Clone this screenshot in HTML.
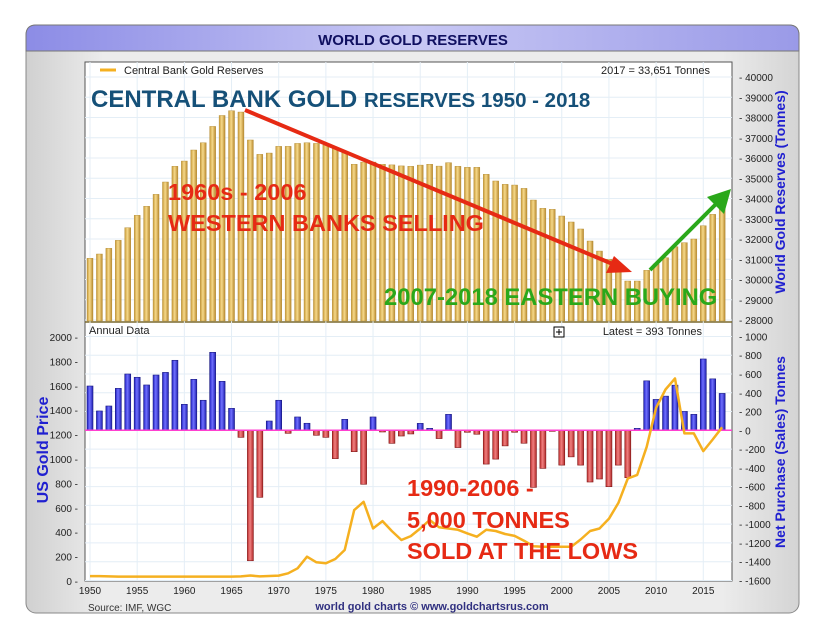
<!DOCTYPE html>
<html><head><meta charset="utf-8"><style>
body{margin:0;background:#fff;width:819px;height:637px;overflow:hidden;font-family:"Liberation Sans",sans-serif}
svg{display:block}
</style></head><body>
<svg id="c" width="819" height="637" font-family="Liberation Sans, sans-serif">
<defs>
<linearGradient id="panel" x1="0" y1="0" x2="1" y2="0"><stop offset="0" stop-color="#d0d0d0"/><stop offset="0.1" stop-color="#ececec"/><stop offset="0.9" stop-color="#ececec"/><stop offset="1" stop-color="#d4d4d4"/></linearGradient>
<linearGradient id="tb" x1="0" y1="0" x2="1" y2="0"><stop offset="0" stop-color="#8c8ce6"/><stop offset="0.5" stop-color="#c8c8f4"/><stop offset="1" stop-color="#9a9ae8"/></linearGradient>
<linearGradient id="gold" x1="0" y1="0" x2="1" y2="0"><stop offset="0" stop-color="#c79a3a"/><stop offset="0.45" stop-color="#f6d98a"/><stop offset="1" stop-color="#b8892e"/></linearGradient>
<linearGradient id="blu" x1="0" y1="0" x2="1" y2="0"><stop offset="0" stop-color="#2020c0"/><stop offset="0.45" stop-color="#7070ff"/><stop offset="1" stop-color="#2020b0"/></linearGradient>
<linearGradient id="red" x1="0" y1="0" x2="1" y2="0"><stop offset="0" stop-color="#c03030"/><stop offset="0.45" stop-color="#f08080"/><stop offset="1" stop-color="#b02828"/></linearGradient>
</defs>
<rect x="26" y="25" width="773" height="588" rx="10" fill="url(#panel)" stroke="#888"/>
<path d="M36 25 H789 Q799 25 799 35 V51 H26 V35 Q26 25 36 25Z" fill="url(#tb)" stroke="#777"/>
<text x="413" y="45" text-anchor="middle" font-weight="bold" font-size="15" fill="#101060">WORLD GOLD RESERVES</text>
<rect x="85" y="62" width="647" height="519" fill="#fff" stroke="#555"/>
<line x1="85" y1="322" x2="732" y2="322" stroke="#7a6a30" stroke-width="1.5"/>
<g id="grid"></g><g id="top"></g><g id="bot"></g><g id="axes"></g>
<line x1="100" y1="70" x2="116" y2="70" stroke="#f5b020" stroke-width="3"/>
<text x="124" y="74" font-size="11" fill="#222">Central Bank Gold Reserves</text>
<text x="710" y="74" text-anchor="end" font-size="11" fill="#222">2017 = 33,651 Tonnes</text>
<text x="89" y="334" font-size="11" fill="#222">Annual Data</text>
<text x="702" y="335" text-anchor="end" font-size="11" fill="#222">Latest = 393 Tonnes</text>
<g><rect x="554" y="327" width="10" height="10" fill="#fff" stroke="#000"/><line x1="559" y1="329" x2="559" y2="335" stroke="#000"/><line x1="556" y1="332" x2="562" y2="332" stroke="#000"/></g>
<text x="91" y="107" font-weight="bold" fill="#155078"><tspan font-size="24">CENTRAL BANK GOLD </tspan><tspan font-size="20.5">RESERVES 1950 - 2018</tspan></text>
<g font-weight="bold" font-size="23.5" fill="#e62a14"><text x="168" y="200">1960s - 2006</text><text x="168" y="231">WESTERN BANKS SELLING</text></g>
<text x="384" y="305" font-weight="bold" font-size="23.8" fill="#2aa81a">2007-2018 EASTERN BUYING</text>
<g font-weight="bold" font-size="23.5" fill="#e62a14"><text x="407" y="496">1990-2006 -</text><text x="407" y="528">5,000 TONNES</text><text x="407" y="559">SOLD AT THE LOWS</text></g>
<g><line x1="245" y1="110" x2="615" y2="265" stroke="#e62a14" stroke-width="4"/><polygon points="632,272 606,273 614,256" fill="#e62a14"/></g>
<g><line x1="650" y1="270" x2="718" y2="202" stroke="#2aa81a" stroke-width="4"/><polygon points="731,189 724,214 707,197" fill="#2aa81a"/></g>
<text transform="translate(785,192) rotate(-90)" text-anchor="middle" font-weight="bold" font-size="14" fill="#2020d0">World Gold Reserves (Tonnes)</text>
<text transform="translate(785,452) rotate(-90)" text-anchor="middle" font-weight="bold" font-size="14" fill="#2020d0">Net Purchase (Sales) Tonnes</text>
<text transform="translate(48,450) rotate(-90)" text-anchor="middle" font-weight="bold" font-size="16" fill="#2020d0">US Gold Price</text>
<text x="88" y="611" font-size="10" fill="#333">Source: IMF, WGC</text>
<text x="432" y="610" text-anchor="middle" font-weight="bold" font-size="11" fill="#303080">world gold charts © www.goldchartsrus.com</text>
</svg>
<script>
const years=[];for(let y=1950;y<=2017;y++)years.push(y);
const reserves=[31047,31259,31540,31935,32560,33170,33615,34205,34815,35590,35850,36395,36755,37560,38100,38335,38270,36890,36180,36245,36575,36575,36720,36755,36720,36640,36480,36260,35690,35800,35800,35690,35660,35610,35590,35650,35690,35600,35770,35590,35540,35540,35195,34865,34700,34665,34500,33925,33515,33465,33135,32840,32495,31900,31405,30995,30550,29925,29925,30453,30765,31078,31620,31820,32000,32657,33218,33651];
const netPurchase=[472,206,259,447,600,565,483,589,617,746,277,543,320,831,522,234,-75,-1390,-714,99,320,-32,142,75,-53,-75,-302,117,-228,-575,142,-18,-139,-61,-39,74,21,-88,170,-184,-21,-42,-360,-307,-166,-21,-138,-608,-406,-7,-371,-283,-371,-551,-519,-601,-371,-505,21,527,329,364,481,201,170,760,548,393];
const goldPrice=[40,40,38,36,36,36,36,36,36,36,36,36,36,36,36,36,38,45,38,41,44,63,104,199,153,145,180,254,581,649,431,491,409,336,368,430,500,440,430,420,390,363,420,410,385,370,330,285,280,280,280,280,340,410,430,510,640,840,870,1100,1420,1570,1660,1210,1210,1065,1160,1260];
const resTicks=[28000,29000,30000,31000,32000,33000,34000,35000,36000,37000,38000,39000,40000];
const netTicks=[-1600,-1400,-1200,-1000,-800,-600,-400,-200,0,200,400,600,800,1000];
const priceTicks=[0,200,400,600,800,1000,1200,1400,1600,1800,2000];
const yearTicks=[1950,1955,1960,1965,1970,1975,1980,1985,1990,1995,2000,2005,2010,2015];
const NS='http://www.w3.org/2000/svg';
const X=y=>90+(y-1950)*9.435;
const YR=v=>320-(v-28000)*0.02025;
const YN=v=>430.3-v*0.09385;
const YP=v=>581-v*0.122;
function mk(tag,attrs,parent,txt){const e=document.createElementNS(NS,tag);for(const k in attrs)e.setAttribute(k,attrs[k]);if(txt!==undefined)e.textContent=txt;document.getElementById(parent).appendChild(e);return e;}
resTicks.forEach(t=>{const l=mk('line',{x1:85,x2:732,y1:YR(t),y2:YR(t),stroke:'#e4eef6'},'grid');


const tk=mk('text',{x:739,y:YR(t)+4,'font-size':10,fill:'#222'},'axes','- '+t);

});
netTicks.forEach(t=>{const l=mk('line',{x1:85,x2:732,y1:YN(t),y2:YN(t),stroke:'#e4eef6'},'grid');


const tk=mk('text',{x:739,y:YN(t)+4,'font-size':10,fill:'#222'},'axes','- '+t);

});
priceTicks.forEach(t=>{const tk=mk('text',{x:78,y:YP(t)+4,'font-size':10,fill:'#222','text-anchor':'end'},'axes',t+' -');

});
yearTicks.forEach(t=>{const l=mk('line',{x1:X(t),x2:X(t),y1:62,y2:581,stroke:'#e4eef6'},'grid');


const tk=mk('text',{x:X(t),y:594,'font-size':10,fill:'#222','text-anchor':'middle'},'axes',t);

});
years.forEach((y,i)=>{const top=YR(reserves[i]);const b=mk('rect',{x:X(y)-3,y:top,width:6,height:321-top,fill:'url(#gold)',stroke:'#b08830','stroke-width':0.4},'top');

});
years.forEach((y,i)=>{const v=netPurchase[i];const a=YN(v),z=YN(0);const b=mk('rect',{x:X(y)-3,y:Math.min(a,z),width:6,height:Math.max(1,Math.abs(a-z)),fill:v>=0?'url(#blu)':'url(#red)',stroke:v>=0?'#1a1a80':'#801818','stroke-width':0.6},'bot');

});
const zl=mk('line',{x1:85,x2:732,y1:YN(0),y2:YN(0),stroke:'#ff40d0','stroke-width':1.5},'bot');


const pts=years.map((y,i)=>X(y).toFixed(1)+','+YP(goldPrice[i]).toFixed(1)).join(' ');
const pl=mk('polyline',{points:pts,fill:'none',stroke:'#f5b020','stroke-width':2.5,'stroke-linejoin':'round'},'bot');


</script>
</body></html>
